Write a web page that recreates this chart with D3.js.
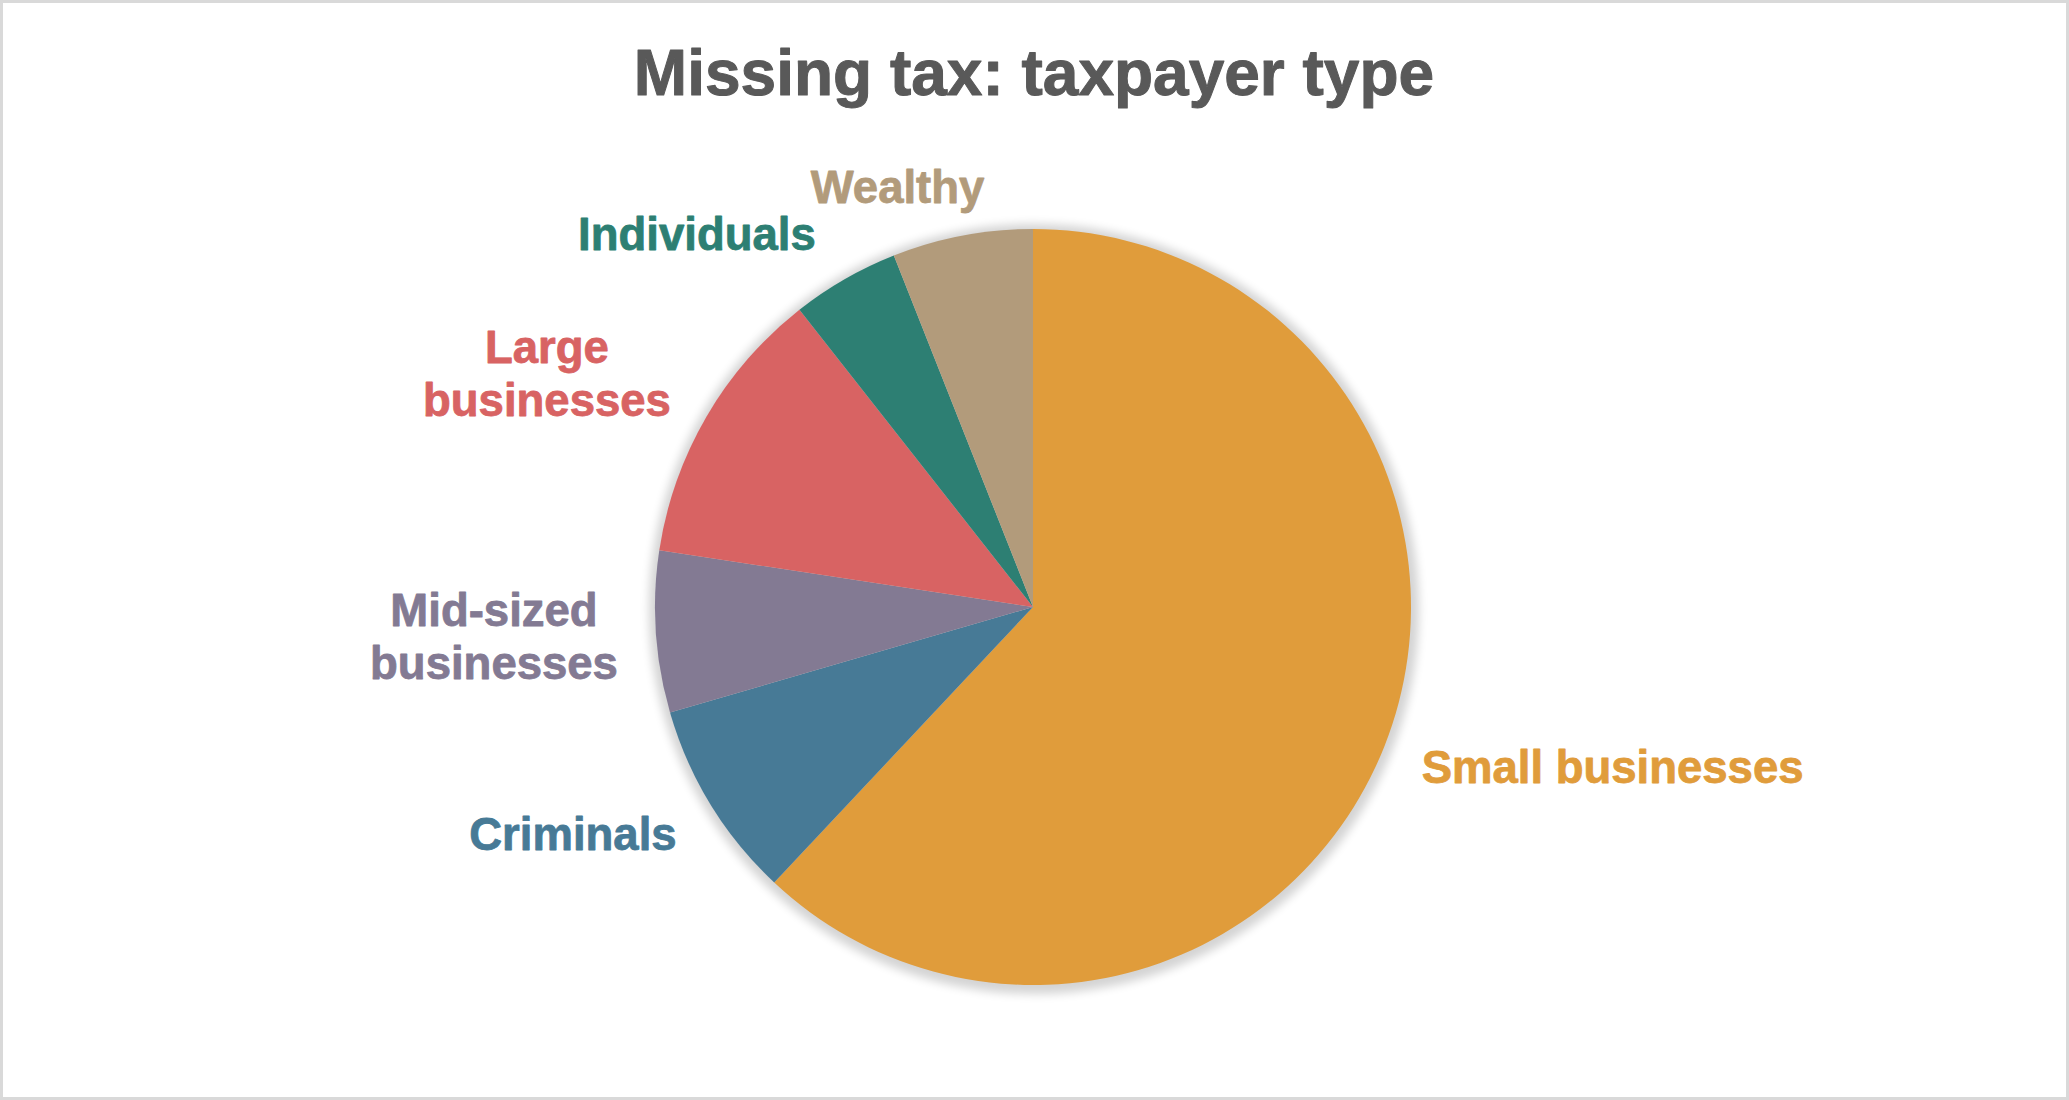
<!DOCTYPE html>
<html>
<head>
<meta charset="utf-8">
<script src="https://cdn.jsdelivr.net/npm/d3@7/dist/d3.min.js"></script>
<style>
  html, body { margin: 0; padding: 0; background: #fff; }
  svg { display: block; }
  text { font-family: "Liberation Sans", Arial, sans-serif; font-weight: bold; }
</style>
</head>
<body>
<svg id="chart" width="2069" height="1100"></svg>
<script>
// ---- data ----
const categories = ["Small businesses", "Criminals", "Mid-sized businesses", "Large businesses", "Individuals", "Wealthy"];
const shares = [62.0, 8.5, 6.9, 12.0, 4.6, 6.0];   // % of missing tax
const labelLines = [["Small businesses"], ["Criminals"], ["Mid-sized", "businesses"], ["Large", "businesses"], ["Individuals"], ["Wealthy"]];
const colors = ["#E09C3B", "#477A96", "#837A93", "#D86363", "#2D7F73", "#B29B7B"];
const titleText = "Missing tax: taxpayer type";

// ---- layout ----
const W = 2069, H = 1100;
const cx = 1033, cy = 607, R = 378;
const labelR = 418, lineGap = 53;
// small Excel-like nudges of each label from its arc anchor
const nudges = [[0, 22], [0, 25], [2, -9], [-1, -33], [-9, 5], [30, 7]];

const svg = d3.select("#chart");

// frame
svg.append("rect").attr("x", 1.5).attr("y", 1.5).attr("width", W - 3).attr("height", H - 3)
  .attr("fill", "#fff").attr("stroke", "#d9d9d9").attr("stroke-width", 3);

// title
svg.append("text").attr("x", 1034).attr("y", 95).attr("text-anchor", "middle")
  .attr("font-size", 64).attr("fill", "#595959")
  .attr("stroke", "#595959").attr("stroke-width", 1).attr("stroke-linejoin", "round")
  .text(titleText);

// shadow filter
const defs = svg.append("defs");
const f = defs.append("filter").attr("id", "glow").attr("x", "-20%").attr("y", "-20%").attr("width", "140%").attr("height", "140%");
f.append("feGaussianBlur").attr("in", "SourceGraphic").attr("stdDeviation", 5);

const g = svg.append("g").attr("transform", `translate(${cx},${cy})`);
g.append("circle").attr("cx", 1).attr("cy", 2).attr("r", R + 7)
  .attr("fill", "#000").attr("opacity", 0.17).attr("filter", "url(#glow)");

const pie = d3.pie().sort(null).value(d => d);
const arcs = pie(shares);
const arc = d3.arc().innerRadius(0).outerRadius(R);

g.selectAll("path.slice").data(arcs).enter().append("path")
  .attr("class", "slice")
  .attr("d", arc)
  .attr("fill", (d, i) => colors[i]);

// labels
arcs.forEach((d, i) => {
  const mid = (d.startAngle + d.endAngle) / 2;
  const ax = cx + labelR * Math.sin(mid);
  const ay = cy - labelR * Math.cos(mid);
  const right = Math.sin(mid) > 0;
  const t = svg.append("text").attr("font-size", 45.5).attr("fill", colors[i])
    .attr("stroke", colors[i]).attr("stroke-width", 0.8).attr("stroke-linejoin", "round")
    .attr("text-anchor", "middle");
  labelLines[i].forEach((ln, k) => {
    t.append("tspan").attr("x", 0).attr("y", k * lineGap).text(ln);
  });
  const bb = t.node().getBBox();
  const edgeX = ax + nudges[i][0];
  const tx = right ? edgeX + bb.width / 2 : edgeX - bb.width / 2;
  const ty = ay + nudges[i][1];
  t.attr("transform", `translate(${tx},${ty})`);
});
</script>
</body>
</html>
